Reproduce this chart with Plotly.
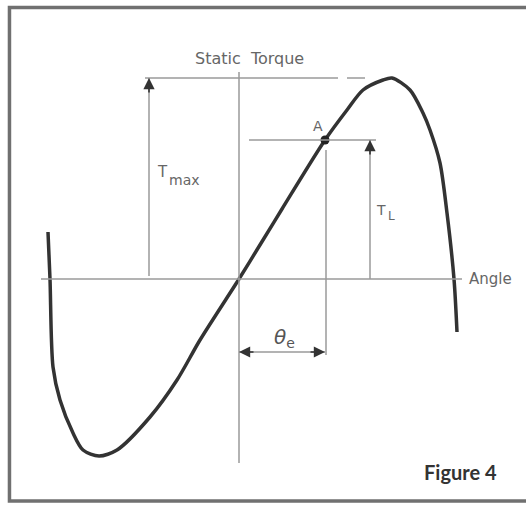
import plotly.graph_objects as go

# torque/angle curve (origin at the axis crossing)
curve_x = [-191, -189, -186, -179, -166, -156, -140, -122, -89, -62, -39, 0, 24, 43, 86, 108, 124, 144, 153, 171, 184, 191, 201, 208, 215, 218]
curve_y = [47, 0, -88, -121, -154, -171, -177, -171, -138, -101, -61, 0, 39, 70, 139, 169, 189, 199, 201, 189, 166, 149, 116, 66, 0, -53]

t_max = 201      # height of the Tmax line
t_load = 139     # load torque at point A
theta_e = 86     # angle of point A
x_tmax = -90     # where the Tmax arrow stands
x_tl = 131       # where the TL arrow stands

fig = go.Figure()

fig.add_trace(go.Scatter(
    x=curve_x, y=curve_y, mode='lines',
    line=dict(color='#333333', width=3.5, shape='spline', smoothing=0.8),
    hoverinfo='skip'
))
fig.add_trace(go.Scatter(
    x=[theta_e], y=[t_load], mode='markers',
    marker=dict(color='#222222', size=9), hoverinfo='skip'
))

gray = '#9a9a9a'
line_style = dict(color=gray, width=1.5)
shapes = [
    # axes
    dict(type='line', x0=-198, x1=223, y0=0, y1=0, line=line_style),
    dict(type='line', x0=0, x1=0, y0=-184, y1=207, line=line_style),
    # Tmax line and dash
    dict(type='line', x0=-94, x1=99, y0=t_max, y1=t_max, line=line_style),
    dict(type='line', x0=108, x1=126, y0=t_max, y1=t_max, line=line_style),
    dict(type='line', x0=x_tmax, x1=x_tmax, y0=3, y1=t_max, line=line_style),
    # TL
    dict(type='line', x0=10, x1=137, y0=t_load, y1=t_load, line=line_style),
    dict(type='line', x0=x_tl, x1=x_tl, y0=0, y1=t_load, line=line_style),
    # theta_e
    dict(type='line', x0=theta_e + 1, x1=theta_e + 1, y0=-76, y1=t_load - 10, line=line_style),
    dict(type='line', x0=0, x1=theta_e, y0=-73, y1=-73, line=line_style),
    # frame (right side runs off the picture)
    dict(type='rect', xref='paper', yref='paper', x0=0.018, x1=1.02, y0=0.008, y1=0.985,
         line=dict(color='#707070', width=3.5)),
]

def arrow(x, y, ax, ay):
    return dict(x=x, y=y, ax=ax, ay=ay, xref='x', yref='y', axref='x', ayref='y',
                text='', showarrow=True, arrowhead=2, arrowsize=1.4, arrowwidth=1.6,
                arrowcolor='#333333')

def label(x, y, text, size, **kw):
    return dict(x=x, y=y, text=text, showarrow=False,
                font=dict(family='DejaVu Sans', size=size, color='#666666'), **kw)

annotations = [
    arrow(x_tmax, t_max, x_tmax, t_max - 16),
    arrow(x_tl, t_load, x_tl, t_load - 16),
    arrow(0, -73, 16, -73),
    arrow(theta_e, -73, theta_e - 16, -73),
    label(10, 221, 'Static  Torque', 16),
    label(228, 0, 'Angle', 15, xanchor='left'),
    label(-77, 107, 'T', 15),
    label(-55, 99, 'max', 14),
    label(142, 69, 'T', 14),
    label(152, 63, 'L', 12),
    label(79, 153, 'A', 14),
    dict(x=45, y=-59, text='<i>θ</i><sub>e</sub>', showarrow=False,
         font=dict(family='DejaVu Sans', size=20, color='#555555')),
    dict(xref='paper', yref='paper', x=0.876, y=0.065, xanchor='center', yanchor='middle',
         text='<b>Figure 4</b>', showarrow=False,
         font=dict(family='Lato', size=20, color='#333333')),
]

fig.update_layout(
    width=526, height=505,
    margin=dict(l=0, r=0, t=0, b=0),
    paper_bgcolor='white', plot_bgcolor='white',
    showlegend=False,
    xaxis=dict(range=[-239, 287], visible=False),
    yaxis=dict(range=[-226, 279], visible=False),
    shapes=shapes,
    annotations=annotations,
)

# drop the page's default body margin so the figure fills the window
fig.write_html("out.html", config={'displayModeBar': False},
               post_script="document.body.style.margin='0';")
